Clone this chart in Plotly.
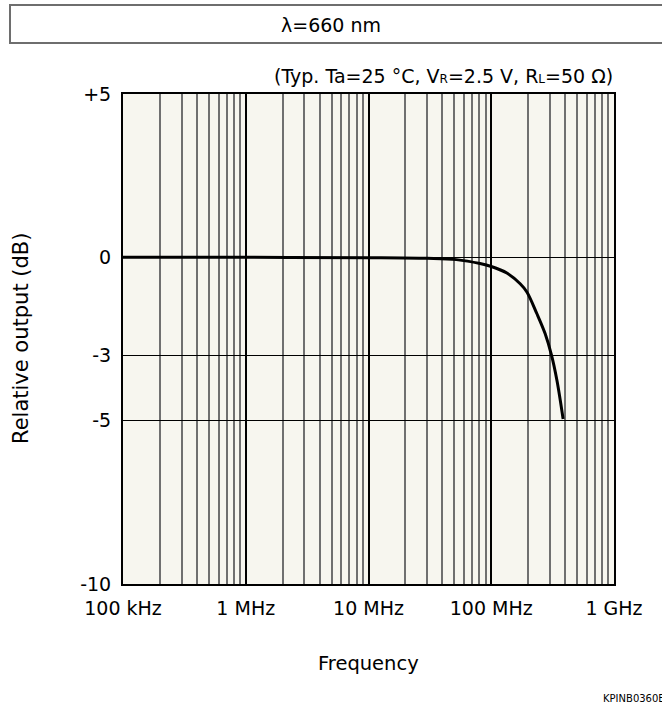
import plotly.graph_objects as go

# Data
freq_hz = [1e5, 1e6, 1e7, 3e7, 5.2e7, 8.1e7, 1.0e8, 1.34e8, 1.72e8, 1.95e8,
           2.35e8, 2.75e8, 3.1e8, 3.43e8, 3.85e8]
rel_db = [0.0, 0.0, -0.01, -0.03, -0.07, -0.19, -0.28, -0.48, -0.81, -1.06,
          -1.72, -2.34, -3.0, -3.77, -4.95]

x_tickvals = [1e5, 1e6, 1e7, 1e8, 1e9]
x_ticktext = ["100 kHz", "1 MHz", "10 MHz", "100 MHz", "1 GHz"]
y_tickvals = [-10, -5, -3, 0, 5]
y_ticktext = ["-10", "-5", "-3", "0", "+5"]
minor_vals = [m * 10 ** e for e in range(5, 9) for m in range(2, 10)]

FONT = "DejaVu Sans"
W, H = 662, 706
L, R, T, B = 123, 48, 94, 122
pw, ph = W - L - R, H - T - B

def px(xp):
    return (xp - L) / pw

def py(yp):
    return (H - B - yp) / ph

fig = go.Figure()
fig.add_trace(go.Scatter(
    x=freq_hz, y=rel_db, mode="lines",
    line=dict(color="black", width=3, shape="spline", smoothing=1.0),
    showlegend=False, hoverinfo="skip",
))

fig.update_layout(
    width=W, height=H,
    margin=dict(l=L, r=R, t=T, b=B),
    paper_bgcolor="white",
    plot_bgcolor="#f7f6ef",
    font=dict(family=FONT, size=19, color="black"),
    xaxis=dict(
        type="log", range=[5, 9],
        tickmode="array", tickvals=x_tickvals, ticktext=x_ticktext,
        showgrid=True, gridcolor="black", gridwidth=2,
        showline=True, mirror=True, linecolor="black", linewidth=2,
        ticks="outside", ticklen=6, tickcolor="rgba(0,0,0,0)",
        tickfont=dict(size=19),
        minor=dict(tickmode="array", tickvals=minor_vals, showgrid=True,
                   gridcolor="#707070", gridwidth=1.5, ticks=""),
        zeroline=False,
    ),
    yaxis=dict(
        range=[-10, 5],
        tickmode="array", tickvals=y_tickvals, ticktext=y_ticktext,
        showgrid=True, gridcolor="black", gridwidth=1,
        showline=True, mirror=True, linecolor="black", linewidth=2,
        ticks="outside", ticklen=6, tickcolor="rgba(0,0,0,0)",
        tickfont=dict(size=19),
        zeroline=False,
    ),
    shapes=[dict(type="rect", xref="paper", yref="paper",
                 x0=px(10), x1=px(680), y0=py(43), y1=py(5),
                 line=dict(color="#6e6e6e", width=2), fillcolor="rgba(0,0,0,0)")],
    annotations=[
        dict(text="λ=660 nm", xref="paper", yref="paper",
             x=px(331), y=py(25), showarrow=False, font=dict(size=19),
             xanchor="center", yanchor="middle"),
        dict(text="(Typ. Ta=25 °C, V<span style='font-size:12px'>R</span>=2.5 V, "
                  "R<span style='font-size:12px'>L</span>=50 Ω)",
             xref="paper", yref="paper", x=px(615), y=py(76), showarrow=False,
             font=dict(size=19), xanchor="right", yanchor="middle"),
        dict(text="Relative output (dB)", xref="paper", yref="paper",
             x=px(21), y=py(339), showarrow=False, textangle=-90,
             font=dict(size=21), xanchor="center", yanchor="middle"),
        dict(text="Frequency", xref="paper", yref="paper",
             x=px(368), y=py(663), showarrow=False,
             font=dict(size=19.5), xanchor="center", yanchor="middle"),
        dict(text="KPINB0360EA", xref="paper", yref="paper",
             x=px(601), y=py(698), showarrow=False,
             font=dict(size=10), xanchor="left", yanchor="middle"),
    ],
)

fig.write_html("out.html")
